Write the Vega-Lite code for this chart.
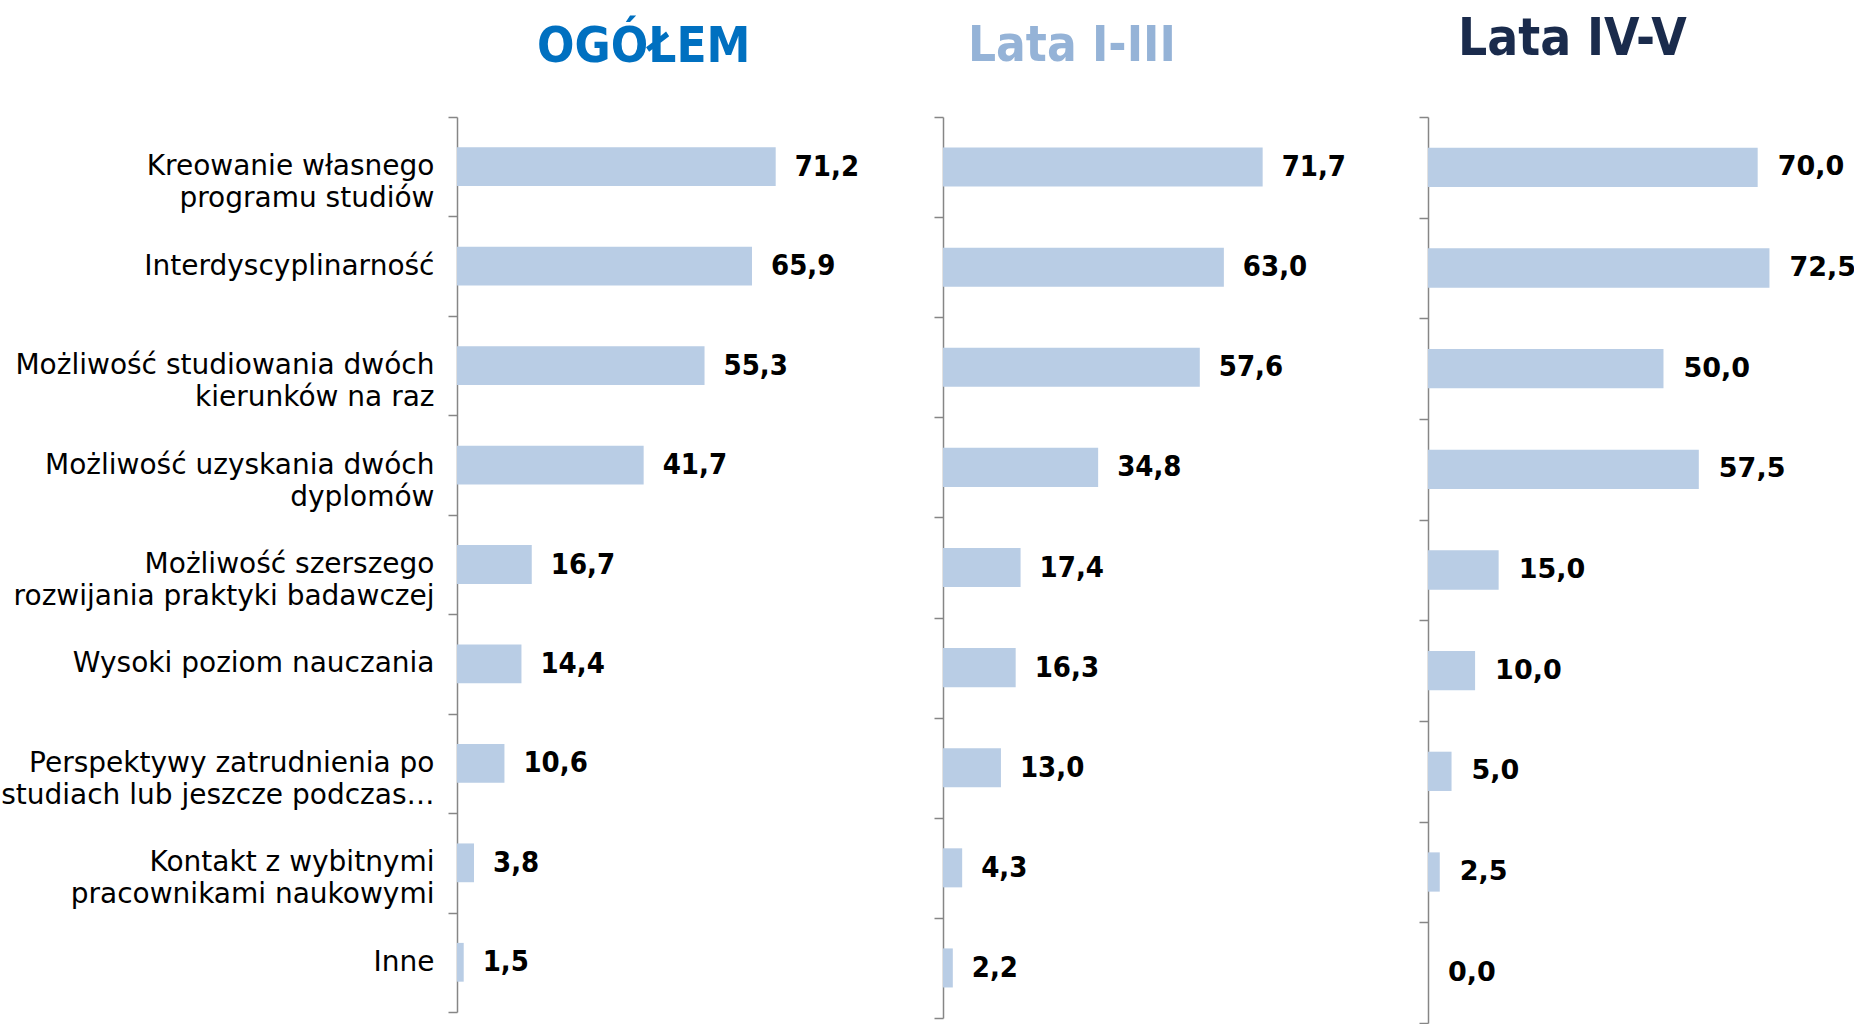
{
  "$schema": "https://vega.github.io/schema/vega-lite/v6.json",
  "background": "white",
  "padding": {"left": 0, "top": 14, "right": 0, "bottom": 0},
  "spacing": 6,
  "config": {
    "view": {"stroke": null},
    "locale": {"number": {"decimal": ",", "thousands": " ", "grouping": [3], "currency": ["", " zł"]}},
    "axisY": {"domainColor": "#868686", "tickColor": "#868686", "domainWidth": 1.5, "tickWidth": 1.5, "tickSize": 9, "tickBand": "extent", "grid": false, "title": null}
  },
  "datasets": {
    "d": [
      {"grupa": "OGÓŁEM", "kategoria": "Kreowanie własnego\nprogramu studiów", "wartosc": 71.2},
      {"grupa": "OGÓŁEM", "kategoria": "Interdyscyplinarność", "wartosc": 65.9},
      {"grupa": "OGÓŁEM", "kategoria": "Możliwość studiowania dwóch\nkierunków na raz", "wartosc": 55.3},
      {"grupa": "OGÓŁEM", "kategoria": "Możliwość uzyskania dwóch\ndyplomów", "wartosc": 41.7},
      {"grupa": "OGÓŁEM", "kategoria": "Możliwość szerszego\nrozwijania praktyki badawczej", "wartosc": 16.7},
      {"grupa": "OGÓŁEM", "kategoria": "Wysoki poziom nauczania", "wartosc": 14.4},
      {"grupa": "OGÓŁEM", "kategoria": "Perspektywy zatrudnienia po\nstudiach lub jeszcze podczas…", "wartosc": 10.6},
      {"grupa": "OGÓŁEM", "kategoria": "Kontakt z wybitnymi\npracownikami naukowymi", "wartosc": 3.8},
      {"grupa": "OGÓŁEM", "kategoria": "Inne", "wartosc": 1.5},
      {"grupa": "Lata I-III", "kategoria": "Kreowanie własnego\nprogramu studiów", "wartosc": 71.7},
      {"grupa": "Lata I-III", "kategoria": "Interdyscyplinarność", "wartosc": 63.0},
      {"grupa": "Lata I-III", "kategoria": "Możliwość studiowania dwóch\nkierunków na raz", "wartosc": 57.6},
      {"grupa": "Lata I-III", "kategoria": "Możliwość uzyskania dwóch\ndyplomów", "wartosc": 34.8},
      {"grupa": "Lata I-III", "kategoria": "Możliwość szerszego\nrozwijania praktyki badawczej", "wartosc": 17.4},
      {"grupa": "Lata I-III", "kategoria": "Wysoki poziom nauczania", "wartosc": 16.3},
      {"grupa": "Lata I-III", "kategoria": "Perspektywy zatrudnienia po\nstudiach lub jeszcze podczas…", "wartosc": 13.0},
      {"grupa": "Lata I-III", "kategoria": "Kontakt z wybitnymi\npracownikami naukowymi", "wartosc": 4.3},
      {"grupa": "Lata I-III", "kategoria": "Inne", "wartosc": 2.2},
      {"grupa": "Lata IV-V", "kategoria": "Kreowanie własnego\nprogramu studiów", "wartosc": 70.0},
      {"grupa": "Lata IV-V", "kategoria": "Interdyscyplinarność", "wartosc": 72.5},
      {"grupa": "Lata IV-V", "kategoria": "Możliwość studiowania dwóch\nkierunków na raz", "wartosc": 50.0},
      {"grupa": "Lata IV-V", "kategoria": "Możliwość uzyskania dwóch\ndyplomów", "wartosc": 57.5},
      {"grupa": "Lata IV-V", "kategoria": "Możliwość szerszego\nrozwijania praktyki badawczej", "wartosc": 15.0},
      {"grupa": "Lata IV-V", "kategoria": "Wysoki poziom nauczania", "wartosc": 10.0},
      {"grupa": "Lata IV-V", "kategoria": "Perspektywy zatrudnienia po\nstudiach lub jeszcze podczas…", "wartosc": 5.0},
      {"grupa": "Lata IV-V", "kategoria": "Kontakt z wybitnymi\npracownikami naukowymi", "wartosc": 2.5},
      {"grupa": "Lata IV-V", "kategoria": "Inne", "wartosc": 0.0}
    ]
  },
  "hconcat": [
    {
      "width": 470, "height": 895,
      "title": {"text": "OGÓŁEM", "color": "#0070C0", "anchor": "start", "frame": "group", "dx": 80, "offset": -18, "baseline": "bottom", "fontSize": 49, "font": "DejaVu Sans Condensed, DejaVu Sans", "fontWeight": "bold"},
      "data": {"name": "d"},
      "transform": [{"filter": "datum.grupa === 'OGÓŁEM'"}],
      "layer": [
        {
          "mark": {"type": "bar", "height": {"band": 0.39}, "color": "#B9CDE5"},
          "encoding": {
            "y": {"field": "kategoria", "type": "nominal", "sort": null, "scale": {"paddingInner": 0, "paddingOuter": 0},
              "axis": {"labelExpr": "isValid(datum.value) ? split(datum.value, '\\n') : ''", "labelFontSize": 28, "labelFont": "DejaVu Sans", "labelColor": "#000000", "labelLineHeight": 32, "labelPadding": 14, "labelLimit": 600, "minExtent": 455, "maxExtent": 455}},
            "x": {"field": "wartosc", "type": "quantitative", "scale": {"domain": [0, 105], "nice": false}, "axis": null}
          }
        },
        {
          "mark": {"type": "text", "align": "left", "baseline": "middle", "dx": 19, "fontSize": 29, "fontWeight": "bold", "font": "DejaVu Sans Condensed, DejaVu Sans", "color": "#000000"},
          "encoding": {
            "y": {"field": "kategoria", "type": "nominal", "sort": null},
            "x": {"field": "wartosc", "type": "quantitative"},
            "text": {"field": "wartosc", "type": "quantitative", "format": ".1f"}
          }
        }
      ]
    },
    {
      "width": 469, "height": 901,
      "title": {"text": "Lata I-III", "color": "#95B3D7", "anchor": "start", "frame": "group", "dx": 25, "offset": -4, "baseline": "bottom", "fontSize": 49, "font": "DejaVu Sans Condensed, DejaVu Sans", "fontWeight": "bold"},
      "data": {"name": "d"},
      "transform": [{"filter": "datum.grupa === 'Lata I-III'"}],
      "layer": [
        {
          "mark": {"type": "bar", "height": {"band": 0.39}, "color": "#B9CDE5"},
          "encoding": {
            "y": {"field": "kategoria", "type": "nominal", "sort": null, "scale": {"paddingInner": 0, "paddingOuter": 0},
              "axis": {"labels": false, "minExtent": 9, "maxExtent": 9}},
            "x": {"field": "wartosc", "type": "quantitative", "scale": {"domain": [0, 105.2], "nice": false}, "axis": null}
          }
        },
        {
          "mark": {"type": "text", "align": "left", "baseline": "middle", "dx": 19, "fontSize": 29, "fontWeight": "bold", "font": "DejaVu Sans Condensed, DejaVu Sans", "color": "#000000"},
          "encoding": {
            "y": {"field": "kategoria", "type": "nominal", "sort": null},
            "x": {"field": "wartosc", "type": "quantitative"},
            "text": {"field": "wartosc", "type": "quantitative", "format": ".1f"}
          }
        }
      ]
    },
    {
      "width": 430, "height": 906,
      "title": {"text": "Lata IV-V", "color": "#1A2B4C", "anchor": "start", "frame": "group", "dx": 30, "offset": -1, "baseline": "bottom", "fontSize": 51, "font": "DejaVu Sans Condensed, DejaVu Sans", "fontWeight": "bold"},
      "data": {"name": "d"},
      "transform": [{"filter": "datum.grupa === 'Lata IV-V'"}],
      "layer": [
        {
          "mark": {"type": "bar", "height": {"band": 0.39}, "color": "#B9CDE5"},
          "encoding": {
            "y": {"field": "kategoria", "type": "nominal", "sort": null, "scale": {"paddingInner": 0, "paddingOuter": 0},
              "axis": {"labels": false, "minExtent": 9, "maxExtent": 9}},
            "x": {"field": "wartosc", "type": "quantitative", "scale": {"domain": [0, 91.3], "nice": false}, "axis": null}
          }
        },
        {
          "mark": {"type": "text", "align": "left", "baseline": "middle", "dx": 20, "fontSize": 27, "fontWeight": "bold", "font": "DejaVu Sans", "color": "#000000", "clip": true},
          "encoding": {
            "y": {"field": "kategoria", "type": "nominal", "sort": null},
            "x": {"field": "wartosc", "type": "quantitative"},
            "text": {"field": "wartosc", "type": "quantitative", "format": ".1f"}
          }
        }
      ]
    }
  ]
}
